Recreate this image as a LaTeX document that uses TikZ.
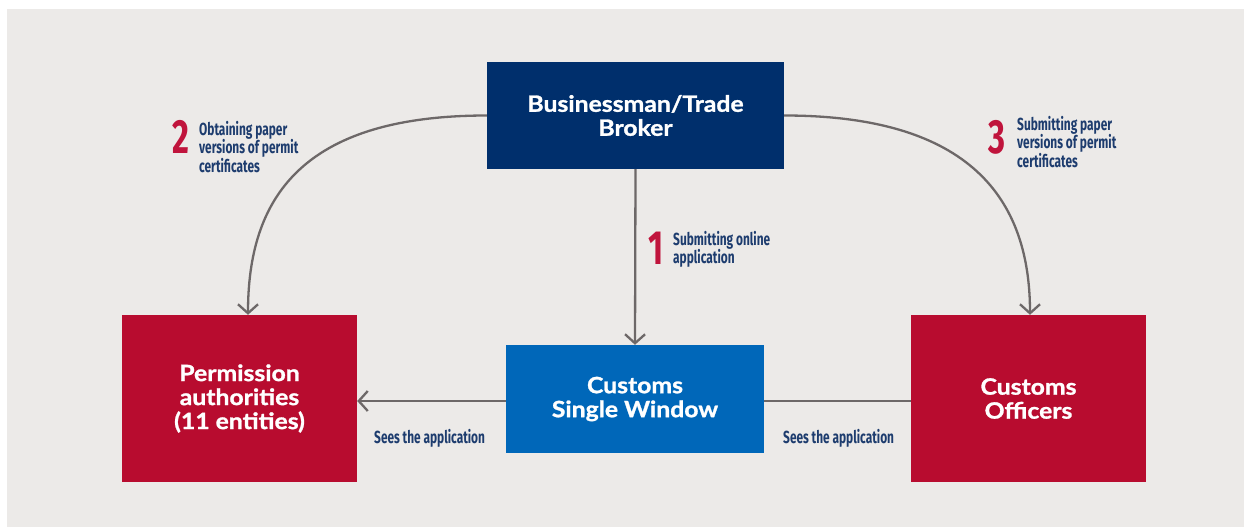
\documentclass[tikz,border=0pt]{standalone}
\usepackage{fontspec}
\setmainfont{Lato}[FakeStretch=1.1, BoldFeatures={FakeBold=1.2}]
\newfontfamily\labfont[FakeStretch=0.68]{Fira Sans}
\usetikzlibrary{arrows.meta}
\definecolor{bg}{HTML}{ECEAE8}
\definecolor{navy}{HTML}{002F6C}
\definecolor{crim}{HTML}{B80C2F}
\definecolor{csblue}{HTML}{0067B9}
\definecolor{arrowgray}{HTML}{6D6868}
\definecolor{labnavy}{HTML}{1D3C6E}
\definecolor{numred}{HTML}{C0143C}
\begin{document}
\begin{tikzpicture}[x=1pt,y=-1pt,
  box/.style={draw=none, inner sep=0pt, align=center, text=white,
    font=\fontsize{22.5}{24}\bfseries\selectfont},
  lbl/.style={inner sep=0pt, anchor=north west, align=left, text=labnavy,
    font=\labfont\fontsize{17.5}{18.5}\bfseries\selectfont},
  num/.style={inner sep=0pt, anchor=base west, text=numred,
    font=\labfont\fontsize{48}{48}\bfseries\selectfont},
  conn/.style={draw=arrowgray, line width=2.3pt},
  arr/.style={conn, -{Straight Barb[length=9pt,width=20pt]}}]
\useasboundingbox (0,0) rectangle (1244,527);
\fill[bg] (7,9) rectangle (1244,527);
\node[box, fill=navy, minimum width=297pt, minimum height=107pt] (top) at (635.5,115.5) {Businessman/Trade\\Broker};
\node[box, fill=crim, minimum width=235pt, minimum height=167pt] (perm) at (239.5,398.5) {Permission\\authorities\\(11 entities)};
\node[box, fill=csblue, minimum width=258pt, minimum height=108pt] (csw) at (635,399) {Customs\\Single Window};
\node[box, fill=crim, minimum width=235pt, minimum height=167pt] (off) at (1028.5,398.5) {Customs\\Officers};
\draw[arr] (top.south) -- (csw.north);
\draw[arr] (top.west) .. controls +(-187,0) and +(0,-115) .. ([xshift=8.5pt]perm.north);
\draw[arr] (top.east) .. controls +(187,0) and +(0,-115) .. ([xshift=1.5pt]off.north);
\draw[arr] ([yshift=-2pt]csw.west) -- ([yshift=-2.5pt]perm.east);
\draw[conn] ([yshift=-2pt]csw.east) -- ([yshift=-2.5pt]off.west);
\node[num] (n2) at (172,153) {2};
\node[lbl] (l2) at (199,121) {Obtaining paper\\versions of permit\\certificates};
\node[num] (n1) at (648,264) {1};
\node[lbl] (l1) at (673,231) {Submitting online\\application};
\node[num] (n3) at (988,153) {3};
\node[lbl] (l3) at (1017,116) {Submitting paper\\versions of permit\\certificates};
\node[lbl, anchor=base west] (s1) at (374,443) {Sees the application};
\node[lbl, anchor=base west] (s2) at (783,443) {Sees the application};
\end{tikzpicture}
\end{document}
